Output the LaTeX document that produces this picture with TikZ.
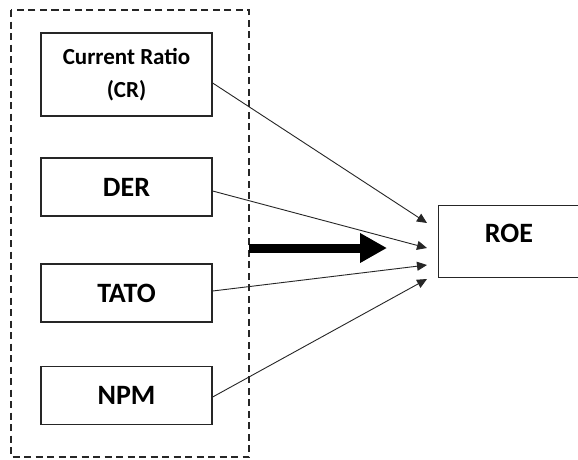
\documentclass[tikz,border=0pt]{standalone}
\usepackage{fontspec}
\setmainfont{Carlito}
\usetikzlibrary{arrows.meta}
\begin{document}
\begin{tikzpicture}[x=1pt,y=-1pt,
  varbox/.style={draw=black!85,line width=1.3pt,minimum width=171pt,minimum height=58pt,
    inner sep=0pt,font=\bfseries\fontsize{28}{30}\selectfont,text=black},
  link/.style={draw=black!85,line width=0.9pt,-{Triangle[length=10pt,width=9pt]}},
  group/.style={draw=black!85,line width=1.6pt,dash pattern=on 7pt off 4.5pt}]
\clip (0,0) rectangle (578,459);
\fill[white] (0,0) rectangle (578,459);

% independent variables
\node[varbox,minimum height=83pt,align=center,font=\bfseries\fontsize{23}{33}\selectfont] (cr) at (126.5,74.5)
  {Current Ratio\\(CR)};
\node[varbox] (der) at (126.5,187) {DER};
\node[varbox] (tato) at (126.5,293) {TATO};
\node[varbox] (npm) at (126.5,395.5) {NPM};

% dependent variable
\node[varbox,minimum width=150pt,minimum height=72pt,anchor=west] (roe) at (438,241.5) {};
\node[font=\bfseries\fontsize{28}{30}\selectfont] (roetext) at (509,233) {ROE};

% dashed group around the independent variables
\draw[group] (11,10) rectangle (249,457);
\coordinate (gout) at (249,248);
\coordinate (gtip) at (387,248);
\draw[line width=9pt,-{Triangle[length=27pt,width=28pt]}] (gout) -- (gtip);

% arrow tips in front of ROE
\coordinate (e1) at (427,223);
\coordinate (e2) at (427,248);
\coordinate (e3) at (427,265);
\coordinate (e4) at (427,279);

\draw[link] ([yshift=-8.5pt]cr.east) -- (e1);
\draw[link] ([yshift=-4pt]der.east) -- (e2);
\draw[link] ([yshift=2pt]tato.east) -- (e3);
\draw[link] ([yshift=-1.5pt]npm.east) -- (e4);
\end{tikzpicture}
\end{document}
